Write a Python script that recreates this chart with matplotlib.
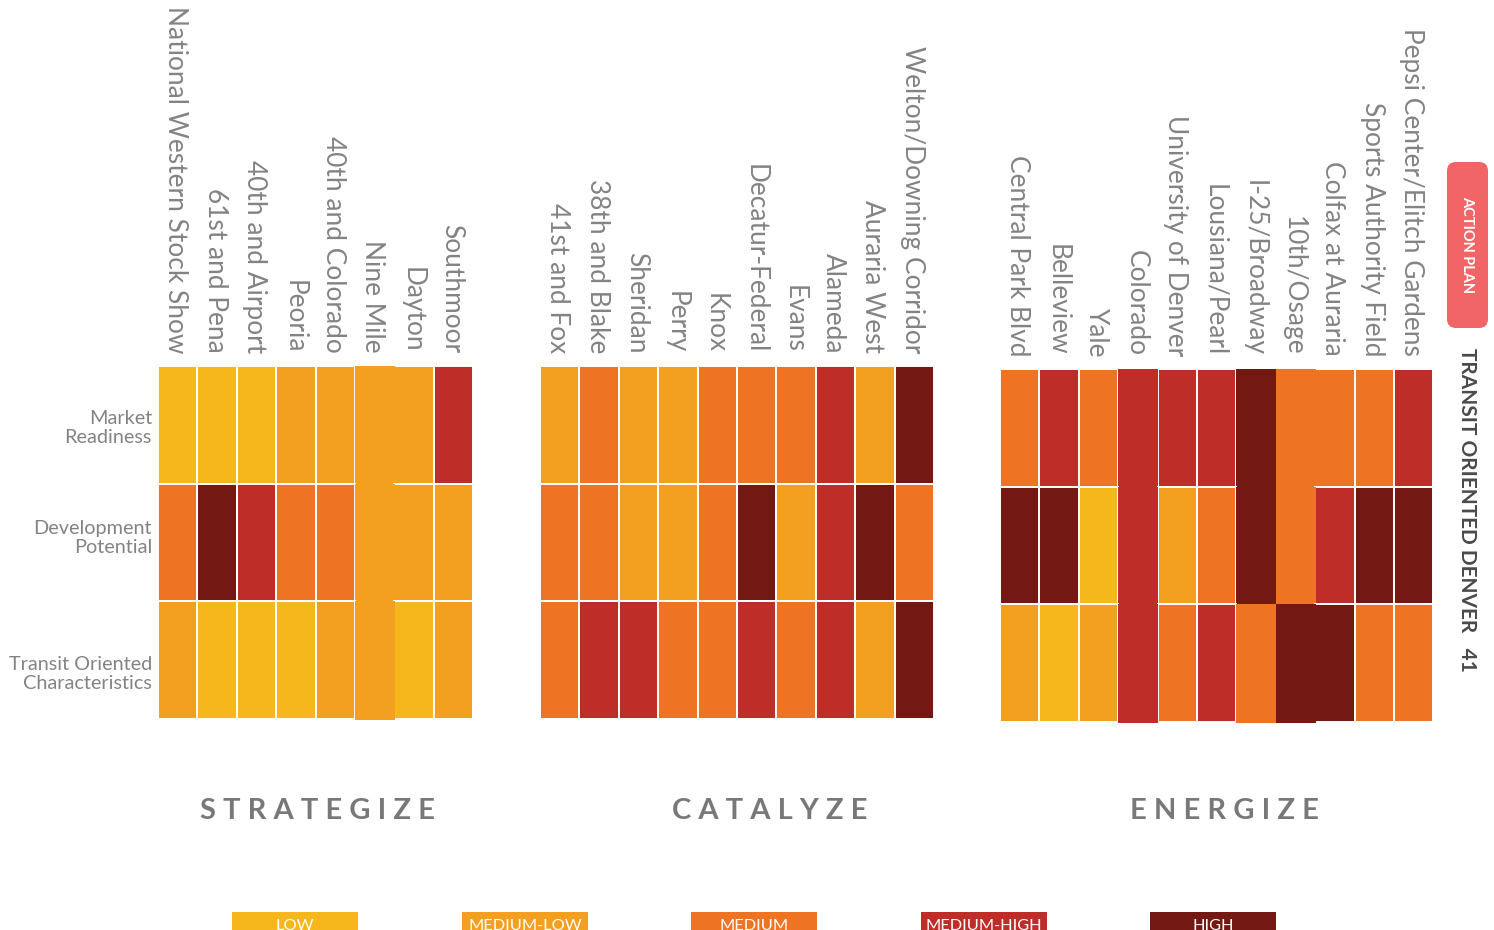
#!/usr/bin/env python3
"""Transit Oriented Denver action plan: station typology grid (Strategize / Catalyze / Energize)."""

import matplotlib.pyplot as plt
from matplotlib.patches import FancyBboxPatch

plt.rcParams["font.family"] = ["Lato", "DejaVu Sans"]

# rating levels, 0 = low ... 4 = high
levels = ["LOW", "MEDIUM-LOW", "MEDIUM", "MEDIUM-HIGH", "HIGH"]
level_colors = ["#F5B71C", "#F39F1F", "#EE7424", "#BE2D27", "#731813"]

criteria = ["Market\nReadiness", "Development\nPotential", "Transit Oriented\nCharacteristics"]

strat_sites = ["National Western Stock Show", "61st and Pena", "40th and Airport", "Peoria",
               "40th and Colorado", "Nine Mile", "Dayton", "Southmoor"]
strat_market = [0, 0, 0, 1, 1, 1, 1, 3]
strat_develop = [2, 4, 3, 2, 2, 1, 1, 1]
strat_transit = [1, 0, 0, 0, 1, 1, 0, 1]

cat_sites = ["41st and Fox", "38th and Blake", "Sheridan", "Perry", "Knox", "Decatur-Federal",
             "Evans", "Alameda", "Auraria West", "Welton/Downing Corridor"]
cat_market = [1, 2, 1, 1, 2, 2, 2, 3, 1, 4]
cat_develop = [2, 2, 1, 1, 2, 4, 1, 3, 4, 2]
cat_transit = [2, 3, 3, 2, 2, 3, 2, 3, 1, 4]

en_sites = ["Central Park Blvd", "Belleview", "Yale", "Colorado", "University of Denver",
            "Lousiana/Pearl", "I-25/Broadway", "10th/Osage", "Colfax at Auraria",
            "Sports Authority Field", "Pepsi Center/Elitch Gardens"]
en_market = [2, 3, 2, 3, 3, 3, 4, 2, 2, 2, 3]
en_develop = [4, 4, 0, 3, 1, 2, 4, 2, 3, 4, 4]
en_transit = [1, 0, 1, 3, 2, 3, 2, 4, 4, 2, 2]

groups = [
    ("STRATEGIZE", strat_sites, [strat_market, strat_develop, strat_transit]),
    ("CATALYZE", cat_sites, [cat_market, cat_develop, cat_transit]),
    ("ENERGIZE", en_sites, [en_market, en_develop, en_transit]),
]

# layout (pixel space of the page)
W, H = 1494, 930
group_x0 = [158, 540, 1000]
group_top = [366, 366, 369]
title_x = [317, 770, 1224]
cell_w = 39.4
row_h = 117.7
# columns that were laid down as one solid block in the original (no white seams)
solid_cols = [[5], [], [3, 6, 7]]

LABEL_GREY = "#838383"

fig = plt.figure(figsize=(W / 100, H / 100), dpi=100)
ax = fig.add_axes([0, 0, 1, 1])
ax.set_xlim(0, W)
ax.set_ylim(H, 0)
ax.axis("off")

for g, (title, sites, rows) in enumerate(groups):
    x0, top = group_x0[g], group_top[g]
    n = len(sites)
    xs = [x0 + cell_w * (i + 0.5) for i in range(n)]
    plain = [i for i in range(n) if i not in solid_cols[g]]
    solid = solid_cols[g]
    for r, vals in enumerate(rows):
        cols = [level_colors[v] for v in vals]
        ax.bar([xs[i] for i in plain], row_h, bottom=top + r * row_h, width=cell_w,
               color=[cols[i] for i in plain], edgecolor="white", linewidth=1.4)
        if solid:
            ax.bar([xs[i] for i in solid], row_h + 1.0, bottom=top + r * row_h - 0.2,
                   width=cell_w + 0.6, color=[cols[i] for i in solid], linewidth=0)
    for i, name in enumerate(sites):
        ax.text(xs[i] - 2, top - 13, name, rotation=270, ha="center", va="bottom",
                fontsize=18.9, color=LABEL_GREY)
    ax.text(title_x[g], 811, " ".join(title), ha="center", va="center",
            fontsize=21, fontweight="bold", color="#787878")

# row labels
for y, lab in zip([428, 538, 674], criteria):
    ax.text(152, y, lab, ha="right", va="center", fontsize=14.3, color=LABEL_GREY,
            linespacing=1.1)

# legend strip along the bottom edge
leg_x = [232, 462, 691, 921, 1150]
for x, lab, c in zip(leg_x, levels, level_colors):
    ax.bar(x + 63, 30, bottom=912, width=126, color=c, linewidth=0)
    ax.text(x + 63, 929.5, lab, ha="center", va="baseline", fontsize=11.8, color="white")

# page tab on the right
tab = FancyBboxPatch((1447, 162), 41, 166, boxstyle="round,pad=0,rounding_size=9",
                     facecolor="#F26566", edgecolor="none")
ax.add_patch(tab)
ax.text(1467, 244, "ACTION PLAN", rotation=270, ha="center", va="center",
        fontsize=10.5, fontweight="bold", color="white")
ax.text(1467, 348, "TRANSIT ORIENTED DENVER   41", rotation=270, ha="center", va="top",
        fontsize=15, fontweight="bold", color="#4a4a4a")

fig.savefig("out.png", dpi=100)
plt.close(fig)
